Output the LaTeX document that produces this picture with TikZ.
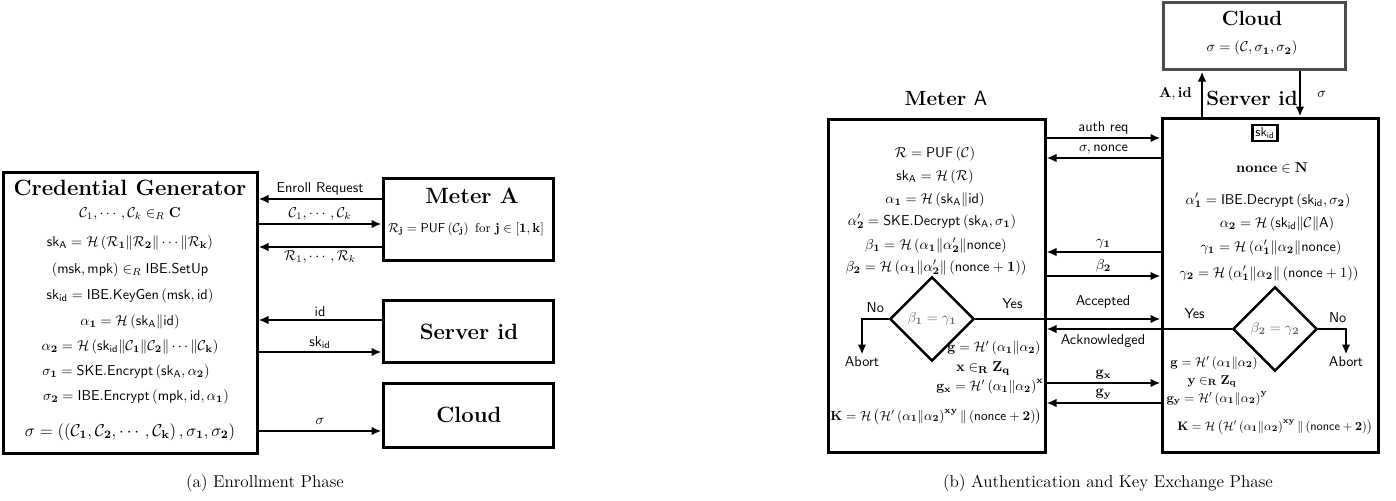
\documentclass[tikz,border=0pt]{standalone}
\usepackage{amsmath}
\usetikzlibrary{arrows.meta,shapes.geometric,fit}
\newcommand{\Hc}{\mathcal{H}}
\newcommand{\bo}[1]{\mathbf{#1}}
\newcommand{\sfm}[1]{\mathsf{#1}}
\begin{document}
\begin{tikzpicture}[x=0.7pt,y=-0.7pt,
  box/.style={draw, line width=2.1pt, inner sep=0pt},
  gbox/.style={draw=black!70, line width=2.1pt, inner sep=0pt},
  arr/.style={-{Latex[length=7pt,width=6pt]}, line width=1.8pt},
  lbl/.style={font=\sffamily, inner sep=1.5pt},
  fm/.style={inner sep=0pt, anchor=base},
  ttl/.style={font=\Large\bfseries, inner sep=0pt},
  bigttl/.style={font=\fontsize{15.5}{18}\selectfont\bfseries, inner sep=0pt},
  dia/.style={diamond, draw, line width=1.8pt, minimum width=59pt, minimum height=59pt, inner sep=0pt, aspect=1, text=black!60},
  captext/.style={font=\large, inner sep=0pt}]
\useasboundingbox (0,0) rectangle (1396,500);

% ---------------- (a) Enrollment ----------------
\node[box, fit={(3,172) (257,453)}] (cg) {};
\node[box, fit={(383,178) (553,260)}] (ma) {};
\node[box, fit={(383,300) (553,362)}] (sv) {};
\node[box, fit={(383,383) (553,447)}] (cl) {};

\node[bigttl] (cgt) at (130,188) {Credential Generator};
\node[fm] (c1) at (130,217) {$\mathcal{C}_1,\cdots,\mathcal{C}_k \in_R \bo{C}$};
\node[fm] (c2) at (130,246) {$\sfm{sk}_{\sfm{A}} = \Hc\left(\mathcal{R}_{\bo 1}\|\mathcal{R}_{\bo 2}\|\cdots\|\mathcal{R}_{\bo k}\right)$};
\node[fm] (c3) at (130,273) {$(\sfm{msk},\sfm{mpk}) \in_R \sfm{IBE.SetUp}$};
\node[fm] (c4) at (130,299) {$\sfm{sk}_{\sfm{id}} = \sfm{IBE.KeyGen}\left(\sfm{msk},\sfm{id}\right)$};
\node[fm] (c5) at (130,325) {$\alpha_{\bo 1} = \Hc\left(\sfm{sk}_{\sfm A}\|\sfm{id}\right)$};
\node[fm] (c6) at (130,350) {$\alpha_{\bo 2} = \Hc\left(\sfm{sk}_{\sfm{id}}\|\mathcal{C}_{\bo 1}\|\mathcal{C}_{\bo 2}\|\cdots\|\mathcal{C}_{\bo k}\right)$};
\node[fm] (c7) at (126,375) {$\sigma_{\bo 1} = \sfm{SKE.Encrypt}\left(\sfm{sk}_{\sfm A},\alpha_{\bo 2}\right)$};
\node[fm] (c8) at (136,400) {$\sigma_{\bo 2} = \sfm{IBE.Encrypt}\left(\sfm{mpk},\sfm{id},\alpha_{\bo 1}\right)$};
\node[fm, font=\large] (c9) at (130,436) {$\sigma = \left(\left(\mathcal{C}_{\bo 1},\mathcal{C}_{\bo 2},\cdots,\mathcal{C}_{\bo k}\right),\sigma_{\bo 1},\sigma_{\bo 2}\right)$};

\node[bigttl] (mat) at (472,196) {Meter A};
\node[fm, scale=0.91] (maf) at (466,232) {$\mathcal{R}_{\bo j} = \sfm{PUF}\left(\mathcal{C}_{\bo j}\right) \text{ for } \bo{j}\in[\bo{1},\bo{k}]$};
\node[bigttl] (svt) at (469,332) {Server id};
\node[bigttl] (clt) at (469,415) {Cloud};

\draw[arr] (ma.west |- 0,199) -- node[lbl, above] {Enroll Request} (cg.east |- 0,199);
\draw[arr] (cg.east |- 0,224) -- node[lbl, above] {$\mathcal{C}_1,\cdots,\mathcal{C}_k$} (ma.west |- 0,224);
\draw[arr] (ma.west |- 0,247) -- node[lbl, below] {$\mathcal{R}_1,\cdots,\mathcal{R}_k$} (cg.east |- 0,247);
\draw[arr] (sv.west |- 0,320) -- node[lbl, above] {id} (cg.east |- 0,320);
\draw[arr] (cg.east |- 0,352) -- node[lbl, above] {sk$_{\text{id}}$} (sv.west |- 0,352);
\draw[arr] (cg.east |- 0,431) -- node[lbl, above=2pt] {$\sigma$} (cl.west |- 0,431);

\node[captext] (capa) at (265,483) {(a) Enrollment Phase};

% ---------------- (b) Authentication ----------------
\node[gbox, fit={(1163,3) (1345,70)}] (cb) {};
\node[ttl] (cbt) at (1252,18) {Cloud};
\node[fm] (cbf) at (1252,52) {$\sigma = \left(\mathcal{C},\sigma_{\bo 1},\sigma_{\bo 2}\right)$};

\node[box, fit={(828,119) (1045,452)}] (mb) {};
\node[box, fit={(1162,118) (1378,452)}] (sb) {};
\node[ttl] (mbt) at (946,98) {Meter \textmd{\sffamily A}};
\node[ttl] (sbt) at (1252,98) {Server id};
\node[draw, line width=1.6pt, inner sep=2pt, font=\sffamily\small] (skb) at (1265,133) {sk$_{\text{id}}$};

\draw[arr] (sb.north -| 1202,0) -- node[left=3pt, font=\bfseries] {$\bo{A},\bo{id}$} (cb.south -| 1202,0);
\draw[arr] (cb.south -| 1300,0) -- node[right=8pt] {$\sigma$} (sb.north -| 1300,0);

% meter formulas
\node[fm] (m1) at (935,157) {$\mathcal{R} = \sfm{PUF}\left(\mathcal{C}\right)$};
\node[fm] (m2) at (935,180) {$\sfm{sk}_{\sfm A} = \Hc\left(\mathcal{R}\right)$};
\node[fm] (m3) at (935,203) {$\alpha_{\bo 1} = \Hc\left(\sfm{sk}_{\sfm A}\|\sfm{id}\right)$};
\node[fm] (m4) at (932,225) {$\alpha'_{\bo 2} = \sfm{SKE.Decrypt}\left(\sfm{sk}_{\sfm A},\sigma_{\bo 1}\right)$};
\node[fm] (m5) at (936,249) {$\beta_{\bo 1} = \Hc\left(\alpha_{\bo 1}\|\alpha'_{\bo 2}\|\sfm{nonce}\right)$};
\node[fm] (m6) at (936,271) {$\beta_{\bo 2} = \Hc\left(\alpha_{\bo 1}\|\alpha'_{\bo 2}\|\left(\sfm{nonce}+\bo 1\right)\right)$};
\node[fm, scale=0.96] (m7) at (994,351) {$\bo{g} = \Hc'\left(\alpha_{\bo 1}\|\alpha_{\bo 2}\right)$};
\node[fm] (m8) at (983,371) {$\bo{x} \in_{\bo R} \bo{Z}_{\bo q}$};
\node[fm, scale=0.96] (m9) at (990,390) {$\bo{g}_{\bo x} = \Hc'\left(\alpha_{\bo 1}\|\alpha_{\bo 2}\right)^{\bo x}$};
\node[fm, scale=0.93] (m10) at (936,420) {$\bo{K} = \Hc\left(\Hc'\left(\alpha_{\bo 1}\|\alpha_{\bo 2}\right)^{\bo{xy}}\|\left(\sfm{nonce}+\bo 2\right)\right)$};

% server formulas
\node[fm] (s0) at (1272,172) {$\bo{nonce} \in \bo{N}$};
\node[fm] (s1) at (1268,204) {$\alpha'_{\bo 1} = \sfm{IBE.Decrypt}\left(\sfm{sk}_{\sfm{id}},\sigma_{\bo 2}\right)$};
\node[fm] (s2) at (1277,227) {$\alpha_{\bo 2} = \Hc\left(\sfm{sk}_{\sfm{id}}\|\mathcal{C}\|\sfm{A}\right)$};
\node[fm] (s3) at (1271,251) {$\gamma_{\bo 1} = \Hc\left(\alpha'_{\bo 1}\|\alpha_{\bo 2}\|\sfm{nonce}\right)$};
\node[fm] (s4) at (1269,277) {$\gamma_{\bo 2} = \Hc\left(\alpha'_{\bo 1}\|\alpha_{\bo 2}\|\left(\sfm{nonce}+1\right)\right)$};
\node[fm, scale=0.9] (s5) at (1214,366) {$\bo{g} = \Hc'\left(\alpha_{\bo 1}\|\alpha_{\bo 2}\right)$};
\node[fm, scale=0.9] (s6) at (1212,384) {$\bo{y} \in_{\bo R} \bo{Z}_{\bo q}$};
\node[fm, scale=0.9] (s7) at (1217,402) {$\bo{g}_{\bo y} = \Hc'\left(\alpha_{\bo 1}\|\alpha_{\bo 2}\right)^{\bo y}$};
\node[fm, scale=0.86] (s8) at (1275,430) {$\bo{K} = \Hc\left(\Hc'\left(\alpha_{\bo 1}\|\alpha_{\bo 2}\right)^{\bo{xy}}\|\left(\sfm{nonce}+\bo 2\right)\right)$};

% diamonds
\node[dia] (d1) at (932,319) {$\beta_{\bo 1}=\gamma_{\bo 1}$};
\node[dia] (d2) at (1275,329) {$\beta_{\bo 2}=\gamma_{\bo 2}$};
\node[lbl] (ab1) at (862,362) {Abort};
\node[lbl] (ab2) at (1346,362) {Abort};
\draw[arr] (d1.west) -| node[lbl, pos=0.25, above=2pt] {No} (ab1.north);
\draw[arr] (d2.east) -| node[lbl, pos=0.35, above=2pt] {No} (ab2.north);

% exchange arrows
\draw[arr] (mb.east |- 0,138) -- node[lbl, above] {auth req} (sb.west |- 0,138);
\draw[arr] (sb.west |- 0,158) -- node[lbl, above] {$\sigma,\sfm{nonce}$} (mb.east |- 0,158);
\draw[arr] (sb.west |- 0,252) -- node[lbl, above] {$\gamma_{\bo 1}$} (mb.east |- 0,252);
\draw[arr] (mb.east |- 0,276) -- node[lbl, above] {$\beta_{\bo 2}$} (sb.west |- 0,276);
\draw[arr] (d1.east) -- node[lbl, pos=0.2, above=5pt] {Yes} (sb.west |- d1.east);
\draw[arr] (d2.west) -- node[lbl, pos=0.2, above=5pt] {Yes} (mb.east |- d2.west);
\node[lbl] (acc) at (1103,302) {Accepted};
\node[lbl] (ack) at (1103,341) {Acknowledged};
\draw[arr] (mb.east |- 0,383) -- node[lbl, above] {$\bo{g}_{\bo x}$} (sb.west |- 0,383);
\draw[arr] (sb.west |- 0,403) -- node[lbl, above] {$\bo{g}_{\bo y}$} (mb.east |- 0,403);

\node[captext] (capb) at (1108,483) {(b) Authentication and Key Exchange Phase};
\end{tikzpicture}
\end{document}
